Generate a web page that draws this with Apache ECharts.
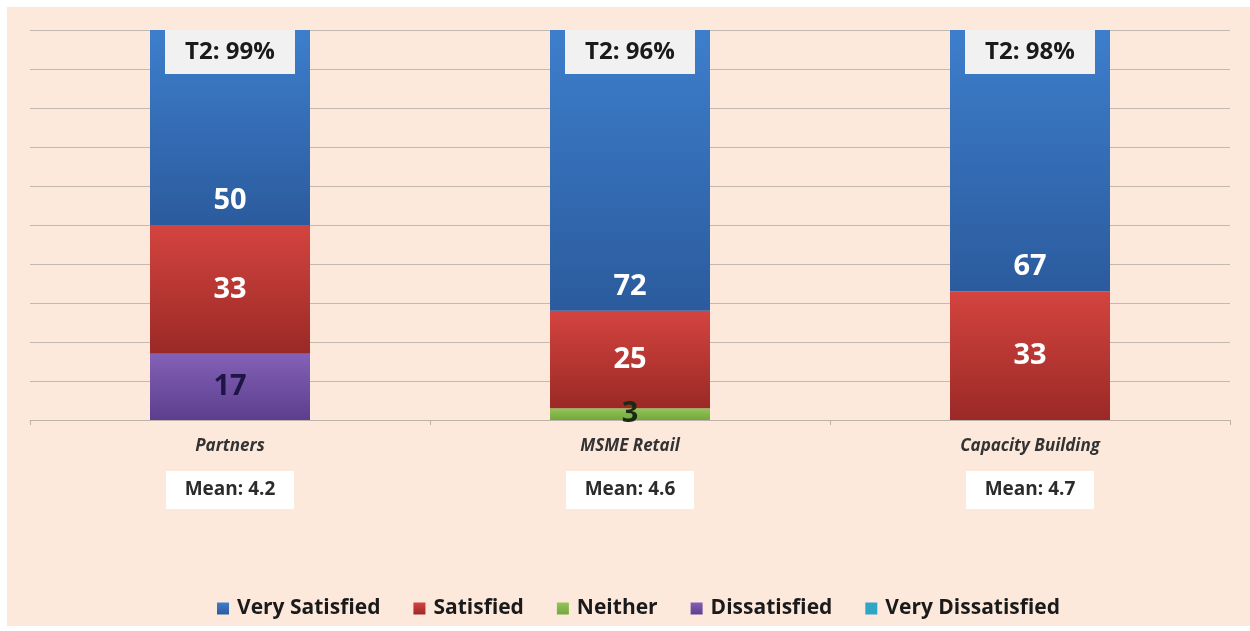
<!DOCTYPE html>
<html>
<head>
<meta charset="utf-8">
<script src="https://cdn.jsdelivr.net/npm/echarts@6/dist/echarts.min.js"></script>
<style>
  html, body { margin: 0; padding: 0; background: #ffffff; }
  #panel { position: absolute; left: 7px; top: 7px; width: 1243px; height: 619px; background: #FDE9DC; }
  #chart { position: absolute; left: 0; top: 0; width: 1250px; height: 631px; }
</style>
</head>
<body>
<div id="panel"></div>
<div id="chart"></div>
<script>
// Satisfaction by programme (% of respondents)
const categories = ['Partners', 'MSME Retail', 'Capacity Building'];
const verySatisfied = [50, 72, 67];
const satisfied = [33, 25, 33];
const neither = [0, 3, 0];
const dissatisfied = [17, 0, 0];
const veryDissatisfied = [0, 0, 0];
const topTwo = [99, 96, 98];     // T2 share
const means = ['4.2', '4.6', '4.7'];
const yTicks = { min: 0, max: 100, interval: 10 };

const chart = echarts.init(document.getElementById('chart'), null, { renderer: 'canvas' });
const FONT = '"Open Sans", "Noto Sans", sans-serif';

function grad(top, bottom) {
  return new echarts.graphic.LinearGradient(0, 0, 0, 1, [
    { offset: 0, color: top }, { offset: 1, color: bottom }
  ]);
}
function valueLabel(color, position, distance) {
  return {
    show: true, position: position, distance: distance || 0,
    color: color, fontFamily: FONT, fontWeight: 'bold', fontSize: 29,
    formatter: p => (p.value > 0 ? p.value : '')
  };
}

const option = {
  backgroundColor: 'transparent',
  animation: false,
  grid: { left: 30, right: 20, top: 30, bottom: 211 },
  legend: {
    bottom: 7, left: 212, itemWidth: 12, itemHeight: 12, itemGap: 33,
    icon: 'rect',
    textStyle: { fontFamily: FONT, fontWeight: 'bold', fontSize: 21, color: '#1a1a1a', padding: [0, 0, 0, 3] },
    data: ['Very Satisfied', 'Satisfied', 'Neither', 'Dissatisfied', 'Very Dissatisfied']
  },
  xAxis: {
    type: 'category', data: categories,
    axisLine: { show: true, lineStyle: { color: '#BDB2AA', width: 1 } },
    axisTick: { show: true, length: 5, lineStyle: { color: '#BDB2AA' } },
    axisLabel: {
      margin: 16, interval: 0,
      formatter: (v, i) => '{cat|' + v + '}\n{gap|}\n{mean|Mean: ' + means[i] + '}',
      rich: {
        cat: { fontFamily: FONT, fontStyle: 'italic', fontWeight: 'bold', fontSize: 17, color: '#333333', lineHeight: 20 },
        gap: { height: 15, lineHeight: 15 },
        mean: { fontFamily: FONT, fontWeight: 'bold', fontSize: 19, color: '#2b2b2b', backgroundColor: '#ffffff',
                width: 128, height: 38, lineHeight: 38, align: 'center' }
      }
    }
  },
  yAxis: {
    type: 'value', min: yTicks.min, max: yTicks.max, interval: yTicks.interval,
    axisLine: { show: false }, axisTick: { show: false }, axisLabel: { show: false },
    splitLine: { show: true, lineStyle: { color: '#C4B9B1', width: 1 } }
  },
  series: [
    {
      name: 'Dissatisfied', type: 'bar', stack: 'sat', barWidth: '40%', data: dissatisfied,
      itemStyle: { color: grad('#8361B7', '#5C3E8D') },
      label: valueLabel('#1E1446', 'inside')
    },
    {
      name: 'Neither', type: 'bar', stack: 'sat', data: neither,
      itemStyle: { color: grad('#93C558', '#74A73D') },
      label: valueLabel('#1b2a12', 'inside')
    },
    {
      name: 'Satisfied', type: 'bar', stack: 'sat', data: satisfied,
      itemStyle: { color: grad('#D4443F', '#9A2926') },
      label: valueLabel('#ffffff', 'inside')
    },
    {
      name: 'Very Satisfied', type: 'bar', stack: 'sat', data: verySatisfied,
      itemStyle: { color: grad('#3D7ECC', '#2B5B9D') },
      label: valueLabel('#ffffff', 'insideBottom', 10)
    },
    {
      name: 'Very Dissatisfied', type: 'bar', stack: 'sat', data: veryDissatisfied,
      itemStyle: { color: '#2FA6C6' },
      label: { show: false }
    },
    {
      // T2 badge at the top of each column
      name: 'T2', type: 'scatter', silent: true, z: 5,
      symbol: 'rect', symbolSize: [130, 44], symbolOffset: [0, 22],
      itemStyle: { color: '#F1F1F1', opacity: 1 },
      data: categories.map((c, i) => [c, yTicks.max, topTwo[i]]),
      label: {
        show: true, position: 'inside',
        fontFamily: FONT, fontWeight: 'bold', fontSize: 24, color: '#1a1a1a',
        formatter: p => 'T2: ' + p.value[2] + '%'
      }
    }
  ]
};
chart.setOption(option);
</script>
</body>
</html>
